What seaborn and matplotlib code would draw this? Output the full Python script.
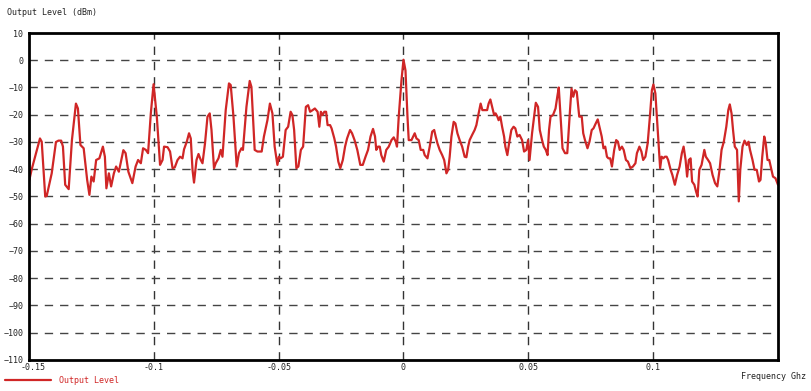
import numpy as np
import pandas as pd
import seaborn as sns
from matplotlib import pyplot as plt
from matplotlib.transforms import ScaledTranslation

# frequency (GHz) and output level (dBm)
freq = [
    -0.1500, -0.1489, -0.1456, -0.1449, -0.1435, -0.1429, -0.1409, -0.1392, -0.1382, -0.1371,
    -0.1364, -0.1355, -0.1341, -0.1328, -0.1312, -0.1304, -0.1294, -0.1281, -0.1267, -0.1258,
    -0.1250, -0.1241, -0.1231, -0.1218, -0.1204, -0.1196, -0.1190, -0.1180, -0.1171, -0.1160,
    -0.1151, -0.1140, -0.1122, -0.1113, -0.1102, -0.1086, -0.1073, -0.1063, -0.1052, -0.1043,
    -0.1032, -0.1023, -0.1012, -0.1001, -0.0988, -0.0975, -0.0965, -0.0959, -0.0945, -0.0935,
    -0.0925, -0.0916, -0.0905, -0.0895, -0.0885, -0.0879, -0.0868, -0.0859, -0.0852, -0.0845,
    -0.0839, -0.0829, -0.0821, -0.0812, -0.0805, -0.0795, -0.0785, -0.0776, -0.0769, -0.0759,
    -0.0752, -0.0741, -0.0732, -0.0725, -0.0712, -0.0699, -0.0692, -0.0681, -0.0668, -0.0659,
    -0.0649, -0.0643, -0.0629, -0.0616, -0.0609, -0.0596, -0.0585, -0.0568, -0.0559, -0.0545,
    -0.0535, -0.0525, -0.0516, -0.0505, -0.0499, -0.0492, -0.0483, -0.0472, -0.0462, -0.0452,
    -0.0445, -0.0438, -0.0429, -0.0421, -0.0411, -0.0402, -0.0391, -0.0382, -0.0374, -0.0364,
    -0.0355, -0.0344, -0.0337, -0.0331, -0.0324, -0.0317, -0.0310, -0.0304, -0.0294, -0.0288,
    -0.0277, -0.0270, -0.0261, -0.0253, -0.0243, -0.0234, -0.0226, -0.0214, -0.0206, -0.0196,
    -0.0185, -0.0173, -0.0163, -0.0152, -0.0142, -0.0132, -0.0122, -0.0114, -0.0109, -0.0102,
    -0.0095, -0.0089, -0.0079, -0.0069, -0.0059, -0.0048, -0.0039, -0.0031, -0.0026, -0.0019,
    -0.0008, 0.0000, 0.0008, 0.0016, 0.0021, 0.0032, 0.0039, 0.0045, 0.0052, 0.0061,
    0.0069, 0.0079, 0.0085, 0.0096, 0.0105, 0.0115, 0.0123, 0.0129, 0.0136, 0.0145,
    0.0155, 0.0163, 0.0172, 0.0179, 0.0185, 0.0192, 0.0201, 0.0208, 0.0216, 0.0225,
    0.0235, 0.0245, 0.0252, 0.0259, 0.0265, 0.0275, 0.0285, 0.0292, 0.0301, 0.0309,
    0.0316, 0.0325, 0.0335, 0.0341, 0.0348, 0.0355, 0.0363, 0.0369, 0.0376, 0.0381,
    0.0388, 0.0395, 0.0403, 0.0408, 0.0416, 0.0423, 0.0432, 0.0441, 0.0448, 0.0456,
    0.0465, 0.0475, 0.0483, 0.0492, 0.0499, 0.0505, 0.0515, 0.0530, 0.0539, 0.0546,
    0.0555, 0.0562, 0.0570, 0.0577, 0.0583, 0.0589, 0.0599, 0.0609, 0.0616, 0.0622,
    0.0626, 0.0637, 0.0647, 0.0656, 0.0667, 0.0673, 0.0680, 0.0687, 0.0694, 0.0700,
    0.0704, 0.0714, 0.0720, 0.0727, 0.0737, 0.0745, 0.0754, 0.0761, 0.0770, 0.0778,
    0.0785, 0.0794, 0.0801, 0.0808, 0.0815, 0.0821, 0.0828, 0.0835, 0.0844, 0.0852,
    0.0859, 0.0866, 0.0875, 0.0882, 0.0891, 0.0899, 0.0909, 0.0919, 0.0929, 0.0935,
    0.0945, 0.0953, 0.0960, 0.0969, 0.0978, 0.0987, 0.0995, 0.1001, 0.1009, 0.1019,
    0.1028, 0.1034, 0.1041, 0.1047, 0.1054, 0.1060, 0.1070, 0.1077, 0.1087, 0.1096,
    0.1106, 0.1115, 0.1122, 0.1130, 0.1136, 0.1143, 0.1150, 0.1156, 0.1165, 0.1172,
    0.1178, 0.1185, 0.1194, 0.1205, 0.1211, 0.1220, 0.1228, 0.1238, 0.1248, 0.1257,
    0.1266, 0.1274, 0.1283, 0.1293, 0.1301, 0.1307, 0.1314, 0.1320, 0.1327, 0.1336,
    0.1343, 0.1349, 0.1358, 0.1366, 0.1375, 0.1382, 0.1388, 0.1398, 0.1406, 0.1415,
    0.1424, 0.1430, 0.1437, 0.1445, 0.1451, 0.1458, 0.1465, 0.1471, 0.1480, 0.1490,
    0.1500,
]
level = [
    -44.5, -40.0, -28.7, -29.9, -50.0, -49.8, -41.5, -30.0, -29.5, -29.5,
    -31.7, -45.7, -47.3, -29.3, -15.9, -17.7, -31.1, -32.3, -43.9, -49.4,
    -42.7, -44.5, -36.6, -36.0, -31.7, -35.4, -47.0, -41.5, -46.3, -41.5,
    -39.0, -40.9, -33.0, -34.1, -40.9, -45.1, -39.0, -36.6, -37.8, -32.3,
    -32.9, -34.1, -19.5, -8.8, -20.7, -38.4, -36.6, -31.7, -31.9, -33.5,
    -39.6, -39.3, -36.6, -35.4, -36.0, -32.7, -29.9, -26.8, -28.7, -40.2,
    -44.9, -36.6, -34.4, -36.6, -37.8, -30.5, -20.7, -19.5, -25.6, -39.6,
    -37.8, -36.0, -32.9, -35.4, -18.3, -8.5, -9.1, -20.7, -39.0, -34.1,
    -32.3, -32.9, -17.1, -7.6, -9.8, -32.9, -33.5, -33.5, -28.0, -22.0,
    -15.9, -19.5, -31.7, -38.4, -35.4, -36.0, -35.4, -25.6, -24.4, -18.9,
    -20.1, -25.6, -39.6, -39.0, -32.9, -31.7, -17.1, -16.5, -18.9, -18.3,
    -17.7, -18.9, -24.4, -18.9, -20.1, -18.9, -18.9, -23.8, -23.8, -25.0,
    -28.7, -31.7, -37.2, -39.6, -36.6, -31.7, -28.7, -25.6, -26.8, -29.3,
    -32.9, -38.4, -38.4, -35.4, -32.9, -28.0, -25.2, -28.0, -32.9, -31.7,
    -31.7, -34.8, -37.2, -32.9, -31.7, -29.3, -28.3, -29.9, -31.7, -20.7,
    -7.3, 0.2, -3.7, -20.7, -29.3, -29.3, -28.0, -26.8, -28.7, -29.3,
    -32.9, -32.9, -34.8, -36.0, -31.7, -26.2, -25.6, -28.0, -30.5, -32.9,
    -34.8, -36.6, -41.5, -40.2, -35.4, -28.0, -22.6, -23.2, -26.8, -29.3,
    -31.7, -35.4, -35.6, -31.7, -29.3, -27.4, -25.6, -23.8, -19.5, -15.9,
    -18.3, -18.3, -18.3, -15.9, -14.4, -17.1, -20.1, -19.5, -20.7, -22.0,
    -20.7, -24.4, -28.0, -31.7, -34.8, -30.5, -25.6, -24.4, -25.0, -28.0,
    -27.4, -29.3, -33.5, -32.9, -29.3, -36.6, -26.8, -15.6, -17.1, -25.6,
    -29.3, -31.7, -32.9, -34.8, -25.6, -20.7, -20.1, -17.7, -13.4, -10.0,
    -15.9, -32.3, -34.1, -34.1, -18.3, -10.4, -13.4, -11.0, -11.6, -17.1,
    -20.7, -20.7, -26.8, -29.3, -32.3, -29.9, -25.6, -25.0, -23.2, -21.7,
    -24.4, -28.0, -32.3, -31.7, -35.4, -36.0, -36.0, -39.0, -32.9, -29.3,
    -29.9, -32.9, -31.7, -32.9, -36.6, -37.2, -39.6, -39.0, -37.8, -34.1,
    -31.7, -33.5, -36.6, -35.4, -30.5, -20.7, -11.0, -8.9, -12.2, -26.8,
    -39.6, -35.4, -36.0, -35.4, -35.4, -36.6, -40.2, -42.1, -45.7, -42.1,
    -39.0, -34.1, -31.7, -36.6, -42.7, -36.6, -36.0, -44.5, -45.7, -48.2,
    -50.0, -40.2, -38.4, -32.9, -35.4, -36.6, -37.8, -42.1, -45.1, -46.3,
    -40.2, -32.9, -29.9, -24.4, -18.3, -16.2, -19.5, -25.6, -31.7, -32.9,
    -51.8, -40.2, -31.7, -29.5, -31.1, -29.9, -32.9, -36.6, -40.2, -40.2,
    -44.5, -43.9, -35.4, -28.0, -30.5, -36.6, -36.6, -39.0, -42.7, -43.3,
    -45.7,
]

x_ticks = [-0.15, -0.1, -0.05, 0, 0.05, 0.1]
x_labels = ["-0.15", "-0.1", "-0.05", "0", "0.05", "0.1"]
y_ticks = list(range(10, -111, -10))

df = pd.DataFrame({"Frequency": freq, "Output Level": level})

sns.set_style("white")
plt.rcParams["font.family"] = ["DejaVu Sans Mono", "DejaVu Sans"]

fig = plt.figure(figsize=(8.12, 3.91), dpi=100)
ax = fig.add_axes([0.0357, 0.0793, 0.9224, 0.8363])

red = "#d02626"
sns.lineplot(data=df, x="Frequency", y="Output Level", ax=ax, color=red,
             linewidth=1.6, estimator=None, sort=False, label="Output Level")

ax.set_xlim(-0.15, 0.15)
ax.set_ylim(-110, 10)
ax.set_xticks(x_ticks)
ax.set_xticklabels(x_labels)
ax.set_yticks(y_ticks)
ax.set_xlabel("")
ax.set_ylabel("")
ax.tick_params(length=0, labelsize=6, colors="#222222")
ax.tick_params(axis="x", pad=2.5)
ax.tick_params(axis="y", pad=4)

# first x label sits a little right of the corner, like the reference
first = ax.get_xticklabels()[0]
first.set_transform(first.get_transform() + ScaledTranslation(4 / 100, 0, fig.dpi_scale_trans))

# dashed grid inside the box
for v in x_ticks[1:]:
    ax.axvline(v, color="#333333", lw=1, ls=(0, (6, 5)), zorder=0)
for h in range(0, -101, -10):
    ax.axhline(h, color="#444444", lw=1, ls=(0, (6, 5)), zorder=0)

for s in ax.spines.values():
    s.set_visible(True)
    s.set_color("black")
    s.set_linewidth(2)

fig.text(0.009, 0.969, "Output Level (dBm)", fontsize=6, va="center", ha="left", color="#222222")
fig.text(0.993, 0.036, "Frequency Ghz", fontsize=6, va="center", ha="right", color="#222222")

ax.legend_.remove()
leg = fig.legend(*ax.get_legend_handles_labels(), loc="center left",
                 bbox_to_anchor=(0.006, 0.026), frameon=False, fontsize=6,
                 handlelength=5.5, handletextpad=1.0, borderpad=0, borderaxespad=0)
for t in leg.get_texts():
    t.set_color(red)

fig.savefig("out.png", dpi=100)
